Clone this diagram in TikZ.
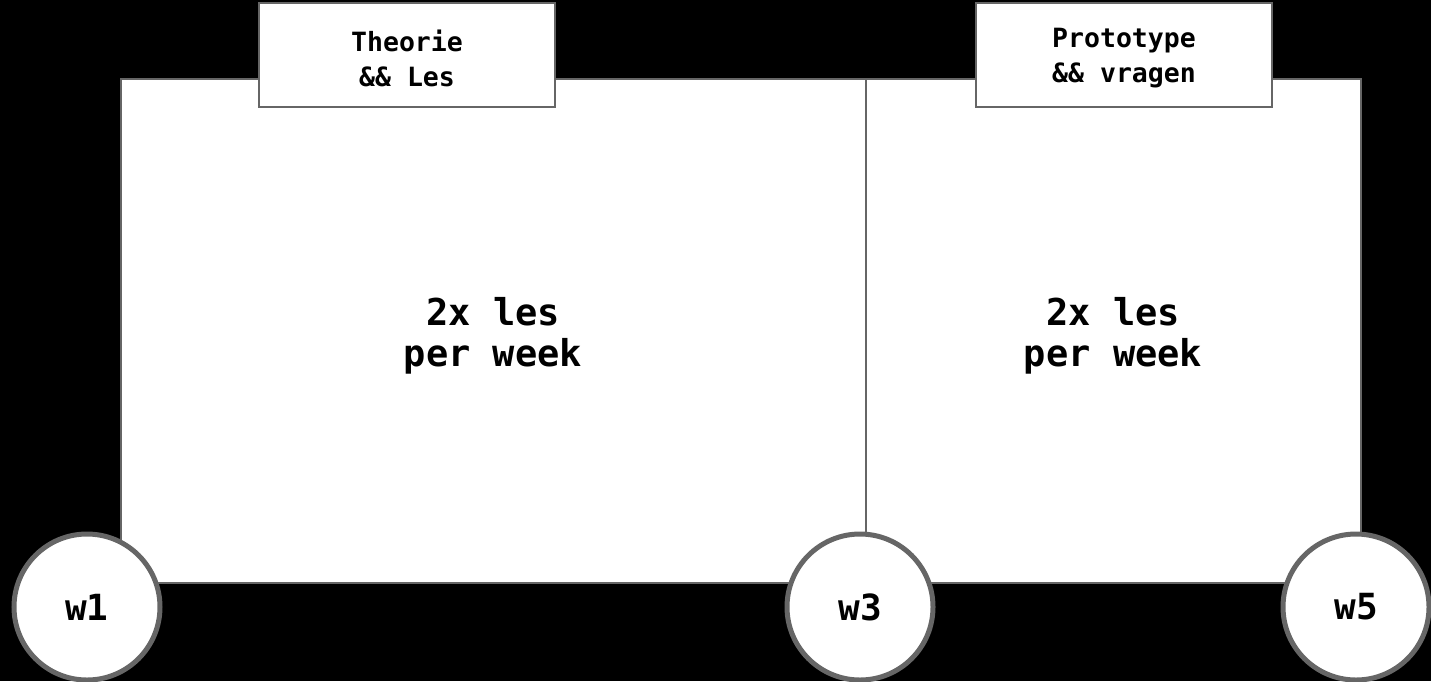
\documentclass[tikz,border=0pt]{standalone}
\usepackage{fontspec}
\setmonofont{DejaVu Sans Mono}
\definecolor{edge}{HTML}{666666}
\tikzset{
  panel/.style={fill=white, draw=edge, line width=1.2pt},
  tagbox/.style={fill=white, draw=edge, line width=1.8pt, minimum width=296pt, minimum height=104pt, inner sep=0pt},
  tagtext/.style={align=center, font=\ttfamily\bfseries\fontsize{26.5}{35}\selectfont, inner sep=0pt, yshift=-3pt},
  body/.style={align=center, font=\ttfamily\bfseries\fontsize{37}{41}\selectfont},
  week/.style={circle, fill=white, draw=edge, line width=5pt, minimum size=146pt, inner sep=0pt, font=\ttfamily\bfseries\fontsize{36}{40}\selectfont}
}
\begin{document}
\begin{tikzpicture}[x=1pt,y=-1pt]
\fill[black] (0,0) rectangle (1431,681);
\useasboundingbox (0,0) rectangle (1431,681);
\draw[panel] (121,79) rectangle (866,583);
\draw[panel] (866,79) rectangle (1361,583);
\node[tagbox] (t1) at (407,55) {};
\node[tagtext] (t1text) at (t1.center) {Theorie\\\&\& Les};
\node[tagbox] (t2) at (1124,55) {};
\node[tagtext] (t2text) at (t2.center) {Prototype\\\&\& vragen};
\node[body] (b1) at (493,336) {2x les\\per week};
\node[body] (b2) at (1113,336) {2x les\\per week};
\node[week] (w1) at (87,607) {w1};
\node[week] (w3) at (860,607) {w3};
\node[week] (w5) at (1356,607) {w5};
\end{tikzpicture}
\end{document}
